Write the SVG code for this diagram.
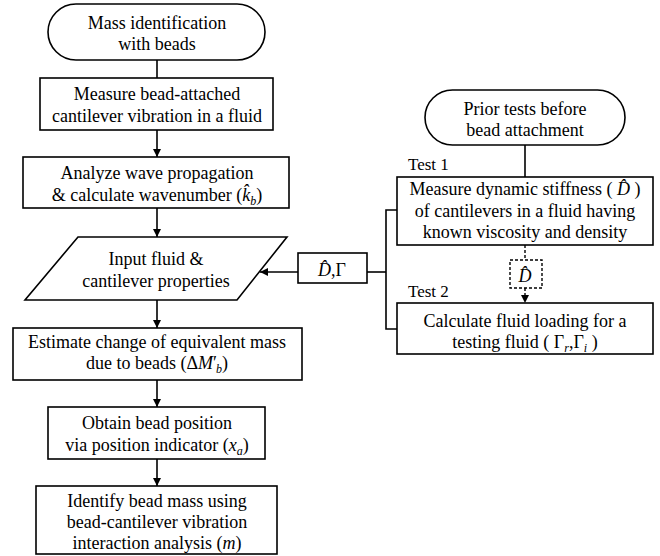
<svg xmlns="http://www.w3.org/2000/svg" width="660" height="556" viewBox="0 0 660 556">
<style>
.s{fill:#fff;stroke:#000;stroke-width:1.6}
.d{fill:#fff;stroke:#000;stroke-width:1.4;stroke-dasharray:3,2}
.c{fill:none;stroke:#000;stroke-width:1.6}
.cd{fill:none;stroke:#000;stroke-width:1.4;stroke-dasharray:3,2}
</style>
<defs>
<marker id="ah" viewBox="0 0 10 10" refX="10" refY="5" markerWidth="8" markerHeight="8" markerUnits="userSpaceOnUse" orient="auto">
<path d="M0,0 L10,5 L0,10 z" fill="#000"/>
</marker>
</defs>
<g id="connectors">
<line class="c" x1="157" y1="60" x2="157" y2="78"/>
<line class="c" x1="157" y1="130" x2="157" y2="157" marker-end="url(#ah)"/>
<line class="c" x1="157" y1="208" x2="157" y2="237" marker-end="url(#ah)"/>
<line class="c" x1="157" y1="300" x2="157" y2="328" marker-end="url(#ah)"/>
<line class="c" x1="157" y1="380" x2="157" y2="407" marker-end="url(#ah)"/>
<line class="c" x1="157" y1="459" x2="157" y2="486" marker-end="url(#ah)"/>
<line class="c" x1="525" y1="145" x2="525" y2="177"/>
<polyline class="c" points="397,210 386,210 386,329 397,329"/>
<line class="c" x1="386" y1="272" x2="367" y2="272"/>
<line class="c" x1="298" y1="272" x2="260" y2="272" marker-end="url(#ah)"/>
<line class="cd" x1="525" y1="245" x2="525" y2="260"/>
<line class="cd" x1="525" y1="288" x2="525" y2="303" marker-end="url(#ah)"/>
</g>
<g font-family="Liberation Serif" font-size="18" fill="#000" text-anchor="middle">
<g id="start">
<rect class="s" x="48" y="4" width="217" height="56" rx="28"/>
<text x="157" y="29">Mass identification</text>
<text x="157" y="50">with beads</text>
</g>
<g id="measure">
<rect class="s" x="40" y="78" width="233" height="52"/>
<text x="157" y="100">Measure bead-attached</text>
<text x="157" y="122">cantilever vibration in a fluid</text>
</g>
<g id="analyze">
<rect class="s" x="23" y="157" width="266" height="51"/>
<text x="157" y="179">Analyze wave propagation</text>
<text x="157" y="201">&amp; calculate wavenumber (<tspan font-style="italic">k̂</tspan><tspan font-style="italic" font-size="12" dy="4">b</tspan><tspan dy="-4">)</tspan></text>
</g>
<g id="input">
<polygon class="s" points="78,237 287,237 237,300 25,300"/>
<text x="156" y="265">Input fluid &amp;</text>
<text x="156" y="287">cantilever properties</text>
</g>
<g id="estimate">
<rect class="s" x="13" y="328" width="289" height="52"/>
<text x="157" y="348">Estimate change of equivalent mass</text>
<text x="157" y="369">due to beads (Δ<tspan font-style="italic">M</tspan>′<tspan font-style="italic" font-size="12" dy="4" dx="-1">b</tspan><tspan dy="-4">)</tspan></text>
</g>
<g id="position">
<rect class="s" x="48" y="407" width="217" height="52"/>
<text x="157" y="429">Obtain bead position</text>
<text x="157" y="451">via position indicator (<tspan font-style="italic">x</tspan><tspan font-style="italic" font-size="12" dy="4">a</tspan><tspan dy="-4">)</tspan></text>
</g>
<g id="identify">
<rect class="s" x="36" y="486" width="241" height="68"/>
<text x="157" y="507">Identify bead mass using</text>
<text x="157" y="528">bead-cantilever vibration</text>
<text x="157" y="549">interaction analysis (<tspan font-style="italic">m</tspan>)</text>
</g>
<g id="prior">
<rect class="s" x="425" y="90" width="200" height="55" rx="27.5"/>
<text x="525" y="115">Prior tests before</text>
<text x="525" y="136">bead attachment</text>
</g>
<g id="test1">
<text x="408" y="170" font-size="17" text-anchor="start">Test 1</text>
<rect class="s" x="397" y="177" width="256" height="68"/>
<text x="525" y="195">Measure dynamic stiffness ( <tspan font-style="italic">D̂</tspan> )</text>
<text x="525" y="217">of cantilevers in a fluid having</text>
<text x="525" y="238">known viscosity and density</text>
</g>
<g id="dhat">
<rect class="d" x="510" y="260" width="32" height="28"/>
<text x="525" y="282" font-style="italic">D̂</text>
</g>
<g id="test2">
<text x="408" y="297" font-size="17" text-anchor="start">Test 2</text>
<rect class="s" x="397" y="303" width="256" height="51"/>
<text x="525" y="327">Calculate fluid loading for a</text>
<text x="525" y="348">testing fluid ( Γ<tspan font-style="italic" font-size="12" dy="4">r</tspan><tspan dy="-4">,Γ</tspan><tspan font-style="italic" font-size="12" dy="4">i</tspan><tspan dy="-4"> )</tspan></text>
</g>
<g id="dgamma">
<rect class="s" x="298" y="253" width="69" height="30"/>
<text x="332" y="276"><tspan font-style="italic">D̂</tspan>,Γ</text>
</g>
</g>
</svg>
